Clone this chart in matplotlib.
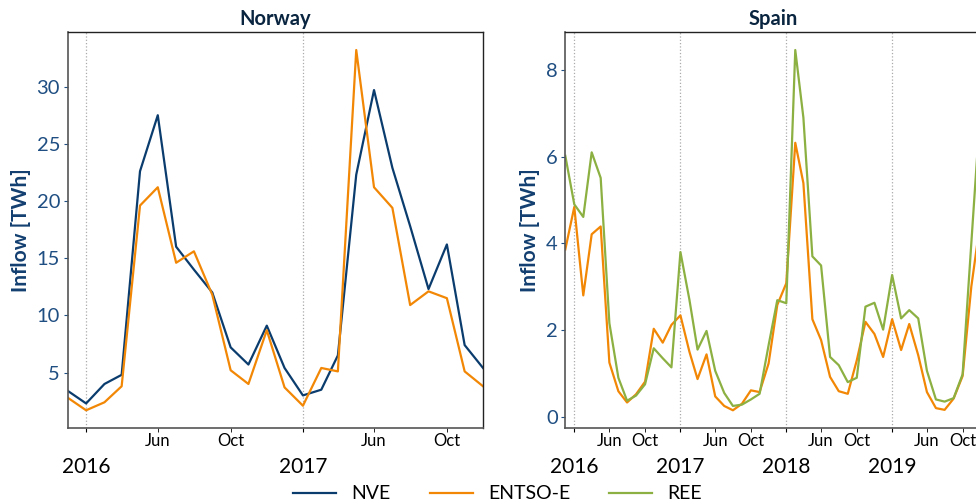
import matplotlib
matplotlib.use("Agg")
import matplotlib.pyplot as plt
import matplotlib.ticker as mticker
import pandas as pd

plt.rcParams['font.family'] = ['Lato', 'DejaVu Sans']

# monthly values (month-end), Nov 2015 onwards
no_dates = pd.date_range('2015-12-01', periods=24, freq='MS') - pd.Timedelta(days=1)
es_dates = pd.date_range('2015-12-01', periods=48, freq='MS') - pd.Timedelta(days=1)

nve = [3.4, 2.3, 4.0, 4.8, 22.6, 27.5, 16.0, 14.0, 12.0, 7.2, 5.7, 9.1,
       5.4, 3.0, 3.5, 6.5, 22.3, 29.7, 22.9, 17.8, 12.3, 16.2, 7.4, 5.4]
entso_no = [2.8, 1.7, 2.4, 3.8, 19.6, 21.2, 14.6, 15.6, 11.8, 5.2, 4.0, 8.7,
            3.7, 2.1, 5.4, 5.1, 33.2, 21.2, 19.4, 10.9, 12.1, 11.5, 5.1, 3.8]

entso_es = [3.86, 4.84, 2.80, 4.21, 4.39, 1.25, 0.59, 0.33, 0.52, 0.81, 2.03, 1.71,
            2.12, 2.34, 1.50, 0.87, 1.44, 0.47, 0.25, 0.15, 0.30, 0.61, 0.57, 1.23,
            2.58, 3.08, 6.32, 5.39, 2.25, 1.77, 0.92, 0.59, 0.53, 1.30, 2.19, 1.91,
            1.38, 2.25, 1.54, 2.14, 1.42, 0.57, 0.20, 0.16, 0.42, 0.94, 3.00, 4.50]
ree = [6.02, 4.90, 4.61, 6.10, 5.51, 2.16, 0.90, 0.37, 0.49, 0.75, 1.58, 1.35,
       1.14, 3.80, 2.70, 1.55, 1.98, 1.06, 0.55, 0.25, 0.28, 0.40, 0.53, 1.65,
       2.69, 2.62, 8.46, 6.90, 3.70, 3.49, 1.38, 1.19, 0.80, 0.90, 2.54, 2.63,
       2.01, 3.27, 2.27, 2.46, 2.27, 1.06, 0.40, 0.35, 0.43, 0.98, 4.00, 7.10]

# tick labels sit on these data months (as in the original chart)
year_month = 12
minor_months = {4: 'Jun', 8: 'Oct'}

c_nve = '#0b3c6e'
c_entso = '#f28705'
c_ree = '#8cb042'
c_lab = '#123f70'
c_tick = '#1f4e82'
c_title = '#0a2540'

fig = plt.figure(figsize=(9.76, 5.04), dpi=100)
ax1 = fig.add_axes([0.0694, 0.1502, 0.4255, 0.7863])
ax2 = fig.add_axes([0.5792, 0.1502, 0.4252, 0.7863])

ax1.plot(no_dates, nve, color=c_nve, lw=1.6, label='NVE')
ax1.plot(no_dates, entso_no, color=c_entso, lw=1.6, label='ENTSO-E')
ax2.plot(es_dates, entso_es, color=c_entso, lw=1.6)
ax2.plot(es_dates, ree, color=c_ree, lw=1.6, label='REE')

for ax, title, d in [(ax1, 'Norway', no_dates), (ax2, 'Spain', es_dates)]:
    ax.set_xlim(d[0], d[-1])
    ax.set_title(title, fontsize=14.5, fontweight='bold', color=c_title, pad=5)
    ax.set_ylabel('Inflow [TWh]', fontsize=15, fontweight='bold', color=c_lab, labelpad=4)

    major = [t for t in d if t.month == year_month]
    minor = [t for t in d if t.month in minor_months]
    ax.xaxis.set_major_locator(mticker.FixedLocator([ax.convert_xunits(t) for t in major]))
    ax.xaxis.set_major_formatter(mticker.FixedFormatter([str(t.year + 1) for t in major]))
    ax.xaxis.set_minor_locator(mticker.FixedLocator([ax.convert_xunits(t) for t in minor]))
    ax.xaxis.set_minor_formatter(mticker.FixedFormatter([minor_months[t.month] for t in minor]))

    ax.tick_params(axis='x', which='major', labelsize=15, length=3, pad=18)
    ax.tick_params(axis='x', which='minor', labelsize=12, length=3, pad=0.5)
    ax.tick_params(axis='y', labelsize=14.5, labelcolor=c_tick, color=c_tick, length=3, pad=2.5)
    ax.grid(True, axis='x', which='major', color='#aaaaaa', linestyle=':', linewidth=0.9)
    for s in ['left', 'bottom']:
        ax.spines[s].set_color('#555555')
        ax.spines[s].set_linewidth(1.2)
    for s in ['top', 'right']:
        ax.spines[s].set_color('#222222')
        ax.spines[s].set_linewidth(1.0)

handles = ax1.get_lines() + [ax2.get_lines()[1]]
fig.legend(handles, ['NVE', 'ENTSO-E', 'REE'], loc='center', bbox_to_anchor=(0.51, 0.02),
           ncol=3, frameon=False, fontsize=14, handlelength=2.2, handletextpad=0.8,
           columnspacing=2.0)

fig.savefig('out.png', dpi=100)
